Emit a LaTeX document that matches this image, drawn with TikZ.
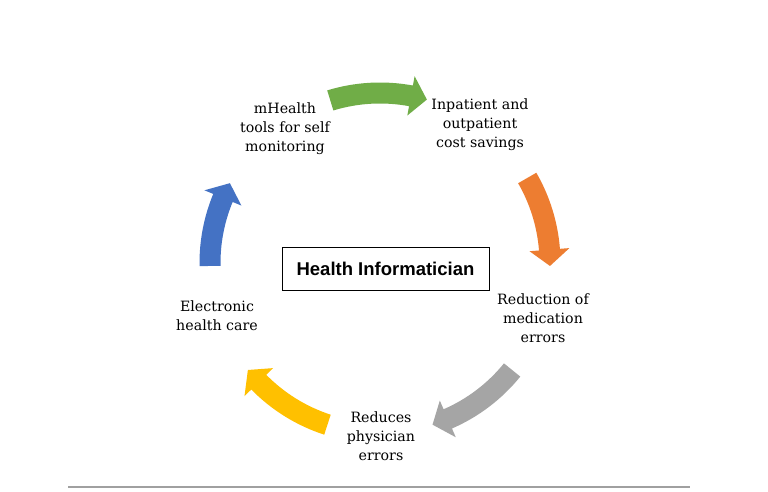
\documentclass[tikz,border=0pt]{standalone}
\usepackage{fontspec}
\setmainfont{DejaVu Serif}
\newfontfamily\boxfont{Liberation Sans}
\usetikzlibrary{calc}
\definecolor{cgreen}{HTML}{70AD47}
\definecolor{corange}{HTML}{ED7D31}
\definecolor{cgray}{HTML}{A5A5A5}
\definecolor{cyellow}{HTML}{FFC000}
\definecolor{cblue}{HTML}{4472C4}
\definecolor{crule}{HTML}{A0A0A0}
\def\Rc{170pt}\def\Ro{180.5pt}\def\Ri{159.5pt}\def\Rh{190pt}\def\Rj{150pt}\def\hd{5.5}
\newcommand\cyclearrow[3]{%
  \fill[#3] ($(C)+(#1:\Ro)$) arc[start angle=#1, end angle=#2+\hd, radius=\Ro]
    -- ($(C)+(#2+\hd:\Rh)$) -- ($(C)+(#2:\Rc)$) -- ($(C)+(#2+\hd:\Rj)$)
    -- ($(C)+(#2+\hd:\Ri)$) arc[start angle=#2+\hd, end angle=#1, radius=\Ri] -- cycle;}
\tikzset{
  lbl/.style={align=center, font=\fontsize{14.2}{19}\selectfont, text=black, inner sep=0pt},
  titlebox/.style={draw=black, line width=0.8pt, minimum width=207pt, minimum height=43pt,
     font=\boxfont\bfseries\fontsize{18.5}{22}\selectfont, inner sep=0pt}
}
\begin{document}
\begin{tikzpicture}[x=1pt,y=1pt]
\useasboundingbox (0,0) rectangle (768,492);
\fill[white] (0,0) rectangle (768,492);
\coordinate (C) at (380,229);
\cyclearrow{107}{74}{cgreen}
\cyclearrow{30}{-1}{corange}
\cyclearrow{-39}{-72}{cgray}
\cyclearrow{-108}{-141}{cyellow}
\cyclearrow{181}{152}{cblue}
\node[titlebox] (hi) at (385.5,223.5) {Health Informatician};
\node[lbl] (m) at (285,363) {mHealth\\tools for self\\monitoring};
\node[lbl] (ip) at (480,367) {Inpatient and\\outpatient\\cost savings};
\node[lbl] (rm) at (543,174) {Reduction of\\medication\\errors};
\node[lbl] (rp) at (381,56) {Reduces\\physician\\errors};
\node[lbl] (eh) at (217,176) {Electronic\\health care};
\coordinate (l1) at (68,5);
\coordinate (l2) at (690,5);
\draw[crule, line width=2pt] (l1) -- (l2);
\end{tikzpicture}
\end{document}
